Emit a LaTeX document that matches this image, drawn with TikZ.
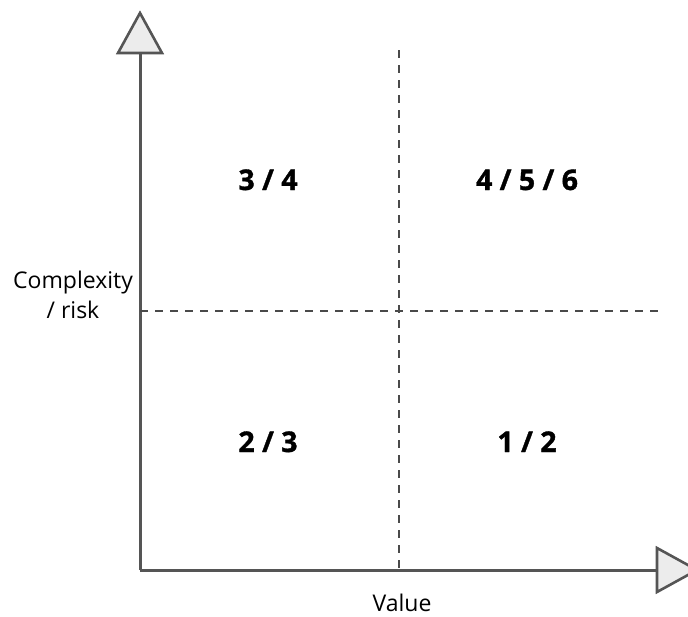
\documentclass[tikz,border=0pt]{standalone}
\usepackage{fontspec}
\setmainfont{Open Sans}[BoldFeatures={FakeBold=1.2}]
\begin{document}
\begin{tikzpicture}[x=1pt,y=-1pt,
  axisline/.style={draw=axisgray,line width=3pt},
  headtri/.style={draw=axisgray,fill=headfill,line width=2.6pt,line join=miter},
  divider/.style={draw=divgray,line width=2pt,dash pattern=on 8pt off 7pt},
  score/.style={font=\fontsize{28.5}{32}\selectfont\bfseries,anchor=base,inner sep=0pt},
  axislabel/.style={font=\fontsize{23}{30}\selectfont,text=black,inner sep=0pt,align=center}]
\definecolor{axisgray}{HTML}{555555}
\definecolor{headfill}{HTML}{ECECEC}
\definecolor{divgray}{HTML}{4A4A4A}
\useasboundingbox (0,0) rectangle (688,616);
\clip (0,0) rectangle (688,616);
% axes
\coordinate (origin) at (140,570);
\coordinate (ytop) at (140,53);
\coordinate (xend) at (657,570);
\draw[axisline] (origin) -- (ytop);
\draw[axisline] (origin) -- (xend);
% arrowheads
\draw[headtri] (118,53) -- (140,13) -- (162,53) -- cycle;
\draw[headtri] (657,548) -- (697,570) -- (657,592) -- cycle;
% quadrant dividers
\coordinate (vtop) at (399,50);
\coordinate (vbot) at (399,570);
\coordinate (hleft) at (140,311);
\coordinate (hright) at (660,311);
\draw[divider] (vtop) -- (vbot);
\draw[divider] (hleft) -- (hright);
% quadrant scores
\node[score] (q1) at (268,190) {3 / 4};
\node[score] (q2) at (527,190) {4 / 5 / 6};
\node[score] (q3) at (268,452) {2 / 3};
\node[score] (q4) at (527,452) {1 / 2};
% axis labels
\node[axislabel,anchor=base] (ylab) at (73,318) {Complexity\\/ risk};
\node[axislabel,anchor=base] (xlab) at (402,611) {Value};
\end{tikzpicture}
\end{document}
